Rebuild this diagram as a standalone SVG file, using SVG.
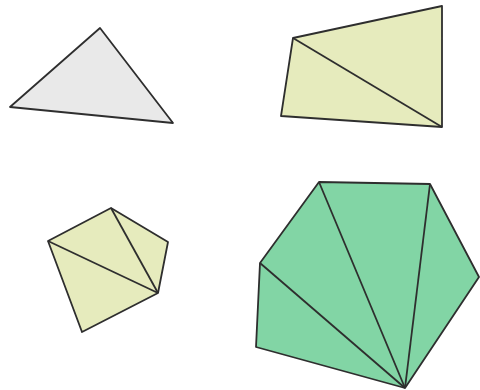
<svg xmlns="http://www.w3.org/2000/svg" width="480" height="390" viewBox="0 0 480 390">
<style>
.p{stroke:#2e2e2e;stroke-width:1.8;stroke-linejoin:round}
.d{stroke:#2e2e2e;stroke-width:1.8;fill:none}
.g{fill:#e9e9e9}
.y{fill:#e6ebbd}
.t{fill:#82d5a5}
</style>
<rect width="480" height="390" fill="#ffffff"/>
<g id="triangle"><polygon class="p g" points="100,28 10,107 173,123"/></g>
<g id="quad"><polygon class="p y" points="293,38 442,6 442,127 281,116"/></g>
<g id="pentagon"><polygon class="p y" points="111,208 168,242 158,293 82,332 48,241"/></g>
<g id="hexagon"><polygon class="p t" points="319,182 430,184 479,277 405,388 256,347 260,263"/></g>
<g id="connectors">
<line class="d" x1="293" y1="38" x2="442" y2="127"/>
<line class="d" x1="48" y1="241" x2="158" y2="293"/>
<line class="d" x1="111" y1="208" x2="158" y2="293"/>
<line class="d" x1="405" y1="388" x2="260" y2="263"/>
<line class="d" x1="405" y1="388" x2="319" y2="182"/>
<line class="d" x1="405" y1="388" x2="430" y2="184"/>
</g>
</svg>
